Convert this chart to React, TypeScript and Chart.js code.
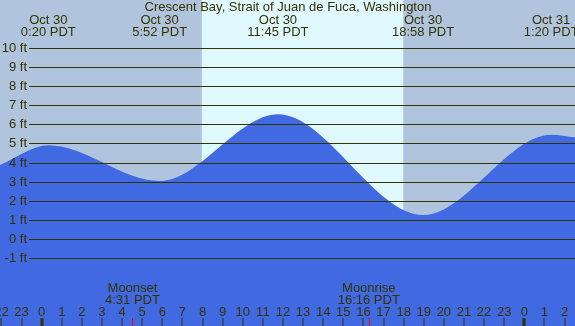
import React, { useEffect, useRef } from "react";
import { Chart, registerables } from "chart.js";

Chart.register(...registerables);

// Hours measured from Oct 30 00:00 PDT
const xMinHour = -2.07;
const xMaxHour = 26.52;
const yMinFt = -4.56;
const yMaxFt = 12.51;

const title = "Crescent Bay, Strait of Juan de Fuca, Washington";

// tide extremes
const extremeHours = [0.333, 5.867, 11.75, 18.967, 25.333];
const extremeFeet = [4.9, 3.03, 6.53, 1.25, 5.46];
const extremeDates = ["Oct 30", "Oct 30", "Oct 30", "Oct 30", "Oct 31"];
const extremeTimes = ["0:20 PDT", "5:52 PDT", "11:45 PDT", "18:58 PDT", "1:20 PDT"];

// curve values at the visible edges
const edgeHours = [-2.07, 26.52];
const edgeFeet = [3.87, 5.32];

// sun
const sunriseHour = 7.97;
const sunsetHour = 17.98;

// moon
const moonHours = [4.517, 16.267];
const moonNames = ["Moonset", "Moonrise"];
const moonTimes = ["4:31 PDT", "16:16 PDT"];

// axis ticks
const feetTicks = [-1, 0, 1, 2, 3, 4, 5, 6, 7, 8, 9, 10];
const hourTicks = [-2, -1, 0, 1, 2, 3, 4, 5, 6, 7, 8, 9, 10, 11, 12, 13, 14, 15, 16, 17, 18, 19, 20, 21, 22, 23, 24, 25, 26];

const NIGHT = "#b0c4de";
const DAY = "#e0f8ff";
const WATER = "#4169e1";
const INK = "#333300";
const FONT = "13px 'Liberation Sans', Arial, sans-serif";

export default function App() {
  const ref = useRef<HTMLCanvasElement | null>(null);

  useEffect(() => {
    document.body.style.margin = "0";
    const canvas = ref.current;
    if (!canvas) return;

    const points = [
      { x: edgeHours[0], y: edgeFeet[0] },
      ...extremeHours.map((h, i) => ({ x: h, y: extremeFeet[i] })),
      { x: edgeHours[1], y: edgeFeet[1] },
    ];

    const decor = {
      id: "decor",
      beforeDraw(chart: any) {
        const { ctx, scales, chartArea } = chart;
        const xs = scales.x;
        ctx.save();
        ctx.fillStyle = NIGHT;
        ctx.fillRect(0, 0, chart.width, chart.height);
        const a = xs.getPixelForValue(sunriseHour);
        const b = xs.getPixelForValue(sunsetHour);
        ctx.fillStyle = DAY;
        ctx.fillRect(a, chartArea.top, b - a, chartArea.bottom - chartArea.top);
        ctx.restore();
      },
      afterDatasetsDraw(chart: any) {
        const { ctx, scales, chartArea } = chart;
        const xs = scales.x;
        const ys = scales.y;
        ctx.save();
        ctx.font = FONT;
        ctx.fillStyle = INK;
        ctx.strokeStyle = INK;
        ctx.lineWidth = 1;
        // horizontal feet lines
        ctx.textAlign = "right";
        ctx.textBaseline = "middle";
        feetTicks.forEach((f) => {
          const y = Math.round(ys.getPixelForValue(f)) + 0.5;
          ctx.beginPath();
          ctx.moveTo(29, y);
          ctx.lineTo(chartArea.right, y);
          ctx.stroke();
          ctx.fillText(f + " ft", 27, y);
        });
        // title
        ctx.textAlign = "center";
        ctx.textBaseline = "alphabetic";
        ctx.fillText(title, (chartArea.left + chartArea.right) / 2 + 0.5, 11);
        // extremes labels
        extremeHours.forEach((h, i) => {
          const x = xs.getPixelForValue(h);
          ctx.fillText(extremeDates[i], x, 24);
          ctx.fillText(extremeTimes[i], x, 36);
        });
        // moon labels
        moonHours.forEach((h, i) => {
          const x = xs.getPixelForValue(h);
          ctx.fillStyle = INK;
          ctx.fillText(moonNames[i], x, 292);
          ctx.fillText(moonTimes[i], x, 304);
          ctx.fillStyle = "#ff0000";
          ctx.fillRect(Math.round(x), 318, 1, 8);
        });
        // hour ticks
        ctx.fillStyle = INK;
        hourTicks.forEach((h) => {
          const x = xs.getPixelForValue(h);
          const lab = String(((h % 24) + 24) % 24);
          ctx.fillText(lab, x, 316);
          if (lab === "0") {
            ctx.fillRect(Math.round(x) - 1.5, 318, 3, 8);
          } else {
            ctx.fillRect(Math.round(x) - 0.5, 318, 1, 8);
          }
        });
        ctx.restore();
      },
    };

    const chart = new Chart(canvas, {
      type: "line",
      data: {
        datasets: [
          {
            data: points,
            borderWidth: 0,
            borderColor: WATER,
            backgroundColor: WATER,
            fill: "start",
            pointRadius: 0,
            cubicInterpolationMode: "monotone",
          },
        ],
      },
      options: {
        animation: false,
        responsive: false,
        maintainAspectRatio: false,
        layout: { padding: 0 },
        plugins: { legend: { display: false }, tooltip: { enabled: false } },
        scales: {
          x: { type: "linear", min: xMinHour, max: xMaxHour, display: false },
          y: { type: "linear", min: yMinFt, max: yMaxFt, display: false },
        },
      },
      plugins: [decor],
    });
    return () => chart.destroy();
  }, []);

  return <canvas ref={ref} width={575} height={326} style={{ display: "block", width: 575, height: 326 }} />;
}
